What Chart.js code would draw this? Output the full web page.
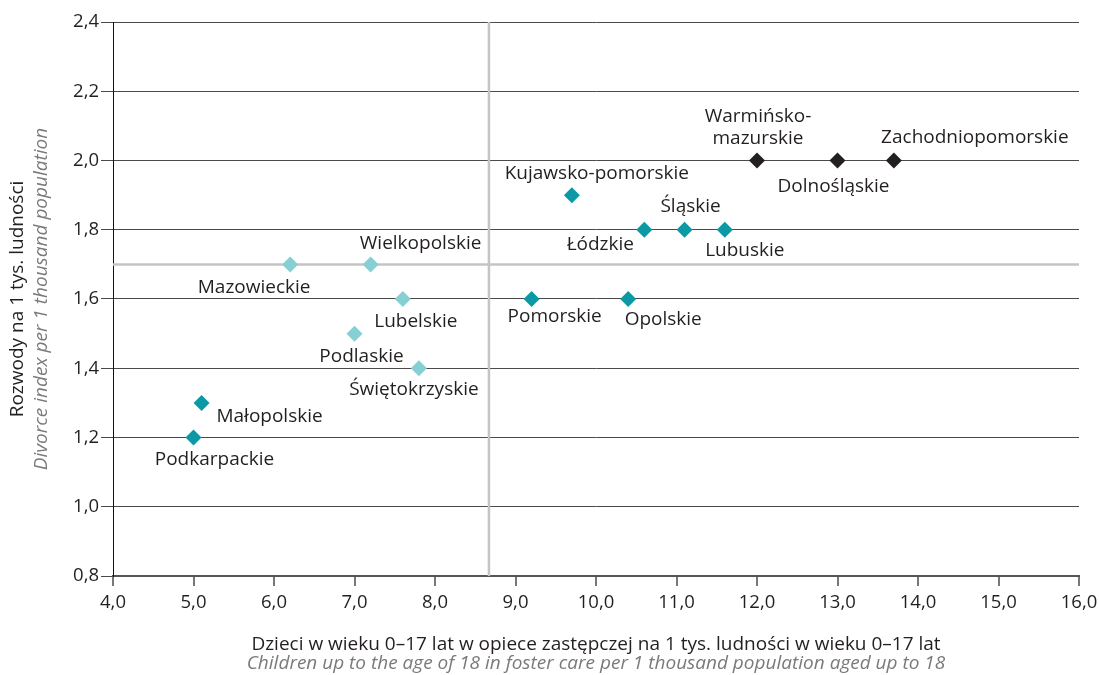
<!DOCTYPE html>
<html>
<head>
<meta charset="utf-8">
<script src="https://cdn.jsdelivr.net/npm/chart.js@4.4.1/dist/chart.umd.min.js"></script>
<style>
  html, body { margin: 0; padding: 0; background: #fff; }
  #wrap { width: 1099px; height: 675px; position: relative; }
</style>
</head>
<body>
<div id="wrap"><canvas id="c" width="1099" height="675"></canvas></div>
<script>
// ---- data ----
const lightNames = ['Mazowieckie', 'Wielkopolskie', 'Lubelskie', 'Podlaskie', 'Świętokrzyskie'];
const lightX = [6.2, 7.2, 7.6, 7.0, 7.8];
const lightY = [1.7, 1.7, 1.6, 1.5, 1.4];

const tealNames = ['Małopolskie', 'Podkarpackie', 'Kujawsko-pomorskie', 'Łódzkie', 'Śląskie', 'Lubuskie', 'Pomorskie', 'Opolskie'];
const tealX = [5.1, 5.0, 9.7, 10.6, 11.1, 11.6, 9.2, 10.4];
const tealY = [1.3, 1.2, 1.9, 1.8, 1.8, 1.8, 1.6, 1.6];

const darkNames = ['Warmińsko-mazurskie', 'Dolnośląskie', 'Zachodniopomorskie'];
const darkX = [12.0, 13.0, 13.7];
const darkY = [2.0, 2.0, 2.0];

const refX = 8.67;   // vertical reference line (average)
const refY = 1.70;   // horizontal reference line (average)

const xMin = 4, xMax = 16, xStep = 1;
const yMin = 0.8, yMax = 2.4, yStep = 0.2;

const yTitle = ['Rozwody na 1 tys. ludności', 'Divorce index per 1 thousand population'];
const xTitle = ['Dzieci w wieku 0–17 lat w opiece zastępczej na 1 tys. ludności w wieku 0–17 lat',
                'Children up to the age of 18 in foster care per 1 thousand population aged up to 18'];

// ---- styles ----
const FONT = '"Open Sans", sans-serif';
const TXT = '#231f20';
const GREY_TXT = '#7a7a7a';
const LBL_SIZE = 19;

const labelOffsets = {
  'Mazowieckie': [-36, 23],
  'Wielkopolskie': [50, -21],
  'Lubelskie': [13, 23],
  'Podlaskie': [7, 23],
  'Świętokrzyskie': [-5, 21],
  'Małopolskie': [68, 14],
  'Podkarpackie': [21, 22],
  'Kujawsko-pomorskie': [25, -22],
  'Łódzkie': [-44, 15],
  'Śląskie': [6, -23],
  'Lubuskie': [20, 21],
  'Pomorskie': [23, 18],
  'Opolskie': [35, 21],
  'Warmińsko-mazurskie': [1, -33],
  'Dolnośląskie': [-4, 26],
  'Zachodniopomorskie': [81, -23]
};
const labelLines = { 'Warmińsko-mazurskie': ['Warmińsko-', 'mazurskie'] };

function pts(xs, ys) { return xs.map((x, i) => ({ x: x, y: ys[i] })); }

const labelPlugin = {
  id: 'labels',
  afterDatasetsDraw(chart) {
    const ctx = chart.ctx;
    ctx.save();
    ctx.font = LBL_SIZE + 'px ' + FONT;
    ctx.fillStyle = TXT;
    ctx.textAlign = 'center';
    ctx.textBaseline = 'middle';
    chart.data.datasets.forEach((ds, di) => {
      if (!ds.names) return;
      const meta = chart.getDatasetMeta(di);
      meta.data.forEach((el, i) => {
        const name = ds.names[i];
        const off = labelOffsets[name] || [0, 20];
        const lines = labelLines[name] || [name];
        const lh = 22;
        const y0 = el.y + off[1] - (lines.length - 1) * lh / 2;
        lines.forEach((ln, k) => ctx.fillText(ln, el.x + off[0], y0 + k * lh));
      });
    });
    ctx.restore();
  }
};

const titlePlugin = {
  id: 'titles',
  afterDraw(chart) {
    const ctx = chart.ctx;
    const a = chart.chartArea;
    ctx.save();
    ctx.textAlign = 'center';
    ctx.textBaseline = 'middle';
    // x title
    const cx = (a.left + a.right) / 2;
    ctx.font = LBL_SIZE + 'px ' + FONT;
    ctx.fillStyle = TXT;
    ctx.fillText(xTitle[0], cx, a.bottom + 69);
    ctx.font = 'italic ' + LBL_SIZE + 'px ' + FONT;
    ctx.fillStyle = GREY_TXT;
    ctx.fillText(xTitle[1], cx, a.bottom + 88);
    // y title
    const cy = (a.top + a.bottom) / 2;
    ctx.translate(18, cy);
    ctx.rotate(-Math.PI / 2);
    ctx.font = LBL_SIZE + 'px ' + FONT;
    ctx.fillStyle = TXT;
    ctx.fillText(yTitle[0], 0, 0);
    ctx.font = 'italic ' + LBL_SIZE + 'px ' + FONT;
    ctx.fillStyle = GREY_TXT;
    ctx.fillText(yTitle[1], 0, 24);
    ctx.restore();
  }
};

const diamond = { pointStyle: 'rectRot', pointRadius: 8, pointHoverRadius: 8, pointBorderWidth: 0, showLine: false };

new Chart(document.getElementById('c'), {
  type: 'scatter',
  data: {
    datasets: [
      Object.assign({ label: 'light', names: lightNames, data: pts(lightX, lightY), backgroundColor: '#86cfd4', order: 1 }, diamond),
      Object.assign({ label: 'teal', names: tealNames, data: pts(tealX, tealY), backgroundColor: '#0b9aa5', order: 1 }, diamond),
      Object.assign({ label: 'dark', names: darkNames, data: pts(darkX, darkY), backgroundColor: '#231f20', order: 1 }, diamond),
      { type: 'line', label: 'refV', data: [{ x: refX, y: yMin }, { x: refX, y: yMax }], borderColor: '#c4c4c4', borderWidth: 2.5, pointRadius: 0, order: 10 },
      { type: 'line', label: 'refH', data: [{ x: xMin, y: refY }, { x: xMax, y: refY }], borderColor: '#c4c4c4', borderWidth: 2.5, pointRadius: 0, order: 10 }
    ]
  },
  options: {
    responsive: false,
    animation: false,
    events: [],
    layout: { padding: { left: 0, right: 20, top: 22, bottom: 0 } },
    plugins: { legend: { display: false }, tooltip: { enabled: false } },
    scales: {
      x: {
        type: 'linear',
        min: xMin, max: xMax,
        ticks: {
          stepSize: xStep,
          color: TXT,
          font: { family: FONT, size: 18.5 },
          padding: 6,
          maxRotation: 0,
          callback: v => v.toFixed(1).replace('.', ',')
        },
        grid: { drawOnChartArea: false, drawTicks: true, tickLength: 10, color: '#777', lineWidth: 2 },
        border: { display: true, color: '#555', width: 2 },
        afterFit: s => { s.height = 99; s.paddingLeft = 0; s.paddingRight = 0; }
      },
      y: {
        type: 'linear',
        min: yMin, max: yMax,
        ticks: {
          stepSize: yStep,
          color: TXT,
          font: { family: FONT, size: 18.5 },
          padding: 2,
          callback: v => v.toFixed(1).replace('.', ',')
        },
        grid: { drawOnChartArea: true, drawTicks: true, tickLength: 12, color: '#4a4a4a', lineWidth: 1 },
        border: { display: true, color: '#111', width: 1 },
        afterFit: s => { s.width = 113; s.paddingTop = 0; s.paddingBottom = 0; }
      }
    }
  },
  plugins: [labelPlugin, titlePlugin]
});
</script>
</body>
</html>
